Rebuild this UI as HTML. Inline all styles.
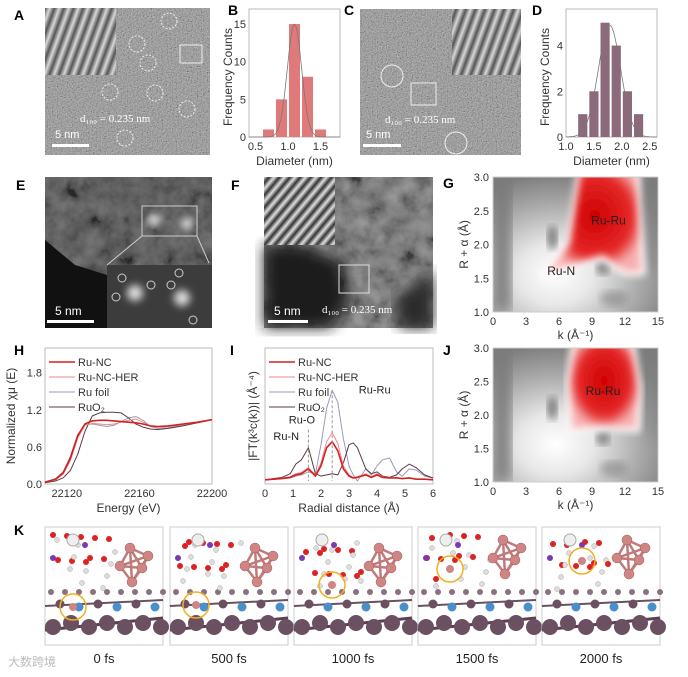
<!DOCTYPE html>
<html><head><meta charset="utf-8"><style>
html,body{margin:0;padding:0;background:#fff}
svg{display:block;font-family:"Liberation Sans","Noto Sans CJK SC",sans-serif}
.pl{font-weight:bold;font-size:14px;fill:#000}
.tk{font-size:11px;fill:#333}
.ax{font-size:12px;fill:#333}
</style></head><body>
<svg id="fig" width="688" height="677" viewBox="0 0 688 677">
<defs>
<filter id="nz" x="0" y="0" width="100%" height="100%"><feTurbulence type="fractalNoise" baseFrequency="0.8" numOctaves="2" seed="3"/><feColorMatrix type="matrix" values="0.33 0.33 0.33 0 0  0.33 0.33 0.33 0 0  0.33 0.33 0.33 0 0  0 0 0 0 1"/><feComponentTransfer><feFuncR type="linear" slope="2.2" intercept="-0.6"/><feFuncG type="linear" slope="2.2" intercept="-0.6"/><feFuncB type="linear" slope="2.2" intercept="-0.6"/></feComponentTransfer></filter>
<filter id="nz2" x="0" y="0" width="100%" height="100%"><feTurbulence type="fractalNoise" baseFrequency="0.06" numOctaves="4" seed="7"/><feColorMatrix type="matrix" values="0.33 0.33 0.33 0 0  0.33 0.33 0.33 0 0  0.33 0.33 0.33 0 0  0 0 0 0 1"/><feComponentTransfer><feFuncR type="linear" slope="2.5" intercept="-0.75"/><feFuncG type="linear" slope="2.5" intercept="-0.75"/><feFuncB type="linear" slope="2.5" intercept="-0.75"/></feComponentTransfer></filter>
<filter id="bl"><feGaussianBlur stdDeviation="4"/></filter>
<filter id="bl2"><feGaussianBlur stdDeviation="7"/></filter>
<linearGradient id="fringe" gradientUnits="userSpaceOnUse" x1="0" y1="0" x2="9" y2="0" spreadMethod="repeat" gradientTransform="rotate(20)"><stop offset="0" stop-color="#555"/><stop offset="0.5" stop-color="#d8d8d8"/><stop offset="1" stop-color="#555"/></linearGradient>
<linearGradient id="fringe2" gradientUnits="userSpaceOnUse" x1="0" y1="0" x2="8" y2="0" spreadMethod="repeat" gradientTransform="rotate(40)"><stop offset="0" stop-color="#333"/><stop offset="0.5" stop-color="#e0e0e0"/><stop offset="1" stop-color="#333"/></linearGradient>
<radialGradient id="gbg" cx="0.38" cy="0.72" r="0.75"><stop offset="0" stop-color="#fff"/><stop offset="0.3" stop-color="#e8e8e8"/><stop offset="0.7" stop-color="#a8a8a8"/><stop offset="1" stop-color="#7c7c7c"/></radialGradient>
<radialGradient id="red" cx="0.5" cy="0.45" r="0.55"><stop offset="0" stop-color="#d00000"/><stop offset="0.75" stop-color="#e52a2a"/><stop offset="1" stop-color="#f7b0b0"/></radialGradient>
</defs>

<g>
<text class="pl" x="14" y="20">A</text>
<rect x="45" y="8" width="165" height="147" fill="#8a8a8a"/>
<rect x="45" y="8" width="165" height="147" filter="url(#nz)" opacity="0.45"/>
<rect x="45" y="8" width="71" height="67" fill="url(#fringe)"/>
<g fill="none" stroke="#eee" stroke-dasharray="2,1.5"><circle cx="169" cy="21" r="8"/><circle cx="137" cy="44" r="8"/><circle cx="148" cy="63" r="8"/><circle cx="110" cy="92" r="8"/><circle cx="155" cy="93" r="8"/><circle cx="187" cy="109" r="8"/><circle cx="125" cy="138" r="8"/></g>
<rect x="180" y="45" width="22" height="18" fill="none" stroke="#eee"/>
<text x="80" y="122" font-family="Liberation Serif" font-size="11" fill="#fff">d₁₀₀ = 0.235 nm</text>
<text x="55" y="138" font-size="11" fill="#fff">5 nm</text>
<rect x="52" y="144" width="37" height="3" fill="#fff"/>
</g>

<g id="pb"><text class="pl" x="228" y="15">B</text></g>
<g>
<text class="pl" x="344" y="15">C</text>
<rect x="360" y="9" width="161" height="146" fill="#8a8a8a"/>
<rect x="360" y="9" width="161" height="146" filter="url(#nz)" opacity="0.45"/>
<rect x="452" y="9" width="69" height="66" fill="url(#fringe)"/>
<circle cx="392" cy="76" r="11" fill="none" stroke="#eee"/>
<circle cx="456" cy="143" r="11" fill="none" stroke="#eee"/>
<rect x="411" y="83" width="25" height="22" fill="none" stroke="#eee"/>
<text x="385" y="123" font-family="Liberation Serif" font-size="11" fill="#fff">d₁₀₀ = 0.235 nm</text>
<text x="366" y="138" font-size="11" fill="#fff">5 nm</text>
<rect x="363" y="144" width="38" height="3" fill="#fff"/>
</g>
<g id="pd"><text class="pl" x="532" y="15">D</text></g>

<g>
<text class="pl" x="16" y="190">E</text>
<rect x="45" y="177" width="167" height="151" fill="#3a3a3a"/>
<rect x="45" y="177" width="167" height="151" filter="url(#nz2)" opacity="0.3"/>
<path d="M45 240 L75 265 L107 275 L107 328 L45 328Z" fill="#111"/>
<rect x="107" y="265" width="105" height="63" fill="#3c3c3c"/>
<g fill="#ddd" filter="url(#bl)"><circle cx="154" cy="220" r="6"/><circle cx="187" cy="224" r="6"/><circle cx="135" cy="293" r="8"/><circle cx="182" cy="298" r="8"/></g>
<rect x="142" y="206" width="55" height="30" fill="none" stroke="#ccc"/>
<line x1="142" y1="236" x2="107" y2="265" stroke="#ccc"/><line x1="197" y1="236" x2="209" y2="263" stroke="#ccc"/>
<g fill="none" stroke="#ccc"><circle cx="122" cy="278" r="4"/><circle cx="151" cy="285" r="4"/><circle cx="171" cy="285" r="4"/><circle cx="179" cy="273" r="4"/><circle cx="116" cy="297" r="4"/><circle cx="193" cy="320" r="4"/></g>
<text x="55" y="315" font-size="12" fill="#fff">5 nm</text>
<rect x="47" y="320" width="47" height="3" fill="#fff"/>
</g>
<g>
<text class="pl" x="231" y="190">F</text>
<rect x="264" y="177" width="169" height="151" fill="#5e5e5e"/>
<rect x="264" y="177" width="169" height="151" filter="url(#nz2)" opacity="0.35"/>
<path d="M264 245 L300 245 L340 260 L350 300 L330 328 L264 328Z" fill="#1e1e1e" filter="url(#bl2)"/>
<path d="M395 300 L433 270 L433 328 L400 328Z" fill="#2a2a2a" filter="url(#bl2)"/>
<rect x="264" y="177" width="71" height="68" fill="url(#fringe2)"/>
<rect x="339" y="265" width="30" height="28" fill="none" stroke="#ddd"/>
<text x="322" y="313" font-family="Liberation Serif" font-size="11" fill="#fff">d₁₀₀ = 0.235  nm</text>
<text x="274" y="315" font-size="12" fill="#fff">5 nm</text>
<rect x="268" y="320" width="40" height="3" fill="#fff"/>
</g>
<g id="pg"><text class="pl" x="443" y="188">G</text></g>
<g id="pj"><text class="pl" x="443" y="355">J</text></g>
<g id="ph"><text class="pl" x="14" y="355">H</text></g>
<g id="pi"><text class="pl" x="230" y="355">I</text></g>
<g id="pk"><text class="pl" x="14" y="535">K</text></g>
<text x="8" y="666" font-size="12" fill="#bbb">大数跨境</text>
</svg>
<script>
const NS="http://www.w3.org/2000/svg";
function el(p,t,a,txt){const e=document.createElementNS(NS,t);for(const k in a)e.setAttribute(k,a[k]);if(txt!==undefined)e.textContent=txt;p.appendChild(e);return e;}

const bBins=[0.7,0.9,1.1,1.3,1.5];
const bCounts=[1,5,15,8,1];
const bXTicks=[0.5,1.0,1.5];
const bYTicks=[0,5,10,15];
const dBins=[1.3,1.5,1.7,1.9,2.1,2.3];
const dCounts=[1,2,5,4,2,1];
const dXTicks=[1.0,1.5,2.0,2.5];
const dYTicks=[0,2,4];

function hist(g,bins,counts,xt,yt,box,xr,yr,color,mu,sd,amp,xlabels){
  const [x0,y0,x1,y1]=box;
  const X=v=>x0+(v-xr[0])/(xr[1]-xr[0])*(x1-x0);
  const Y=v=>y1-(v-yr[0])/(yr[1]-yr[0])*(y1-y0);
  el(g,'rect',{x:x0,y:y0,width:x1-x0,height:y1-y0,fill:'none',stroke:'#bbb'});
  const w=bins[1]-bins[0];
  bins.forEach((b,i)=>{
    const r=el(g,'rect',{x:X(b-w/2)+1,y:Y(counts[i]),width:X(b+w/2)-X(b-w/2)-2,height:Y(0)-Y(counts[i]),fill:color});
    
    
  });
  let d='';for(let i=0;i<=80;i++){const v=xr[0]+(xr[1]-xr[0])*i/80;const c=amp*Math.exp(-((v-mu)**2)/(2*sd*sd));d+=(i?'L':'M')+X(v).toFixed(1)+' '+Y(c).toFixed(1);}
  el(g,'path',{d,fill:'none',stroke:'#777','stroke-width':0.8});
  xt.forEach((t,i)=>el(g,'text',{class:'tk',x:X(t),y:y1+13,'text-anchor':'middle'},xlabels[i]));
  yt.forEach(t=>el(g,'text',{class:'tk',x:x0-3,y:Y(t)+4,'text-anchor':'end'},String(t)));
  el(g,'text',{class:'ax',x:(x0+x1)/2,y:y1+28,'text-anchor':'middle'},'Diameter (nm)');
  el(g,'text',{class:'ax',transform:`translate(${x0-17},${(y0+y1)/2+4}) rotate(-90)`,'text-anchor':'middle'},'Frequency Counts');
}
hist(document.getElementById('pb'),bBins,bCounts,bXTicks,bYTicks,[249,9,340,137],[0.4,1.8],[0,17],'#e07a7a',1.1,0.11,15,['0.5','1.0','1.5']);
hist(document.getElementById('pd'),dBins,dCounts,dXTicks,dYTicks,[566,9,657,137],[1.0,2.63],[0,5.6],'#8c6a7c',1.78,0.2,4.9,['1.0','1.5','2.0','2.5']);

const mapKTicks=[0,3,6,9,12,15];
const mapRTicks=[1.0,1.5,2.0,2.5,3.0];
function wmap(g,box,blob,labels,id){
  const [x0,y0,x1,y1]=box;
  const X=v=>x0+v/15*(x1-x0);
  const Y=v=>y1-(v-1)/2*(y1-y0);
  el(el(g,'clipPath',{id}),'rect',{x:x0,y:y0,width:x1-x0,height:y1-y0});
  const gg=el(g,'g',{'clip-path':`url(#${id})`});
  el(gg,'rect',{x:x0,y:y0,width:x1-x0,height:y1-y0,fill:'url(#gbg)'});
  el(gg,'rect',{x:x0,y:y0,width:18,height:y1-y0,fill:'#7a7a7a',filter:'url(#bl2)'});
  el(gg,'ellipse',{cx:X(5.4),cy:Y(2.1),rx:5,ry:12,fill:'#555',filter:'url(#bl)',opacity:0.7});
  el(gg,'ellipse',{cx:X(10),cy:Y(1.65),rx:7,ry:7,fill:'#666',filter:'url(#bl)',opacity:0.7});
  el(gg,'ellipse',{cx:X(11),cy:Y(1.2),rx:14,ry:8,fill:'#888',filter:'url(#bl)',opacity:0.6});
  el(gg,'ellipse',{cx:X(14.5),cy:Y(2.2),rx:10,ry:40,fill:'#888',filter:'url(#bl2)',opacity:0.6});
  const pts=blob.map(p=>X(p[0]).toFixed(1)+','+Y(p[1]).toFixed(1)).join(' ');
  el(gg,'polygon',{points:pts,fill:'#fff',stroke:'#fff','stroke-width':8,filter:'url(#bl)'});
  el(gg,'polygon',{points:pts,fill:'url(#red)',filter:'url(#bl)'});
  el(g,'rect',{x:x0,y:y0,width:x1-x0,height:y1-y0,fill:'none',stroke:'#ccc'});
  labels.forEach(l=>el(g,'text',{x:X(l[0]),y:Y(l[1]),'font-size':12,fill:'#222','text-anchor':'middle'},l[2]));
  mapKTicks.forEach(t=>el(g,'text',{class:'tk',x:X(t),y:y1+13,'text-anchor':'middle'},String(t)));
  mapRTicks.forEach(t=>el(g,'text',{class:'tk',x:x0-4,y:Y(t)+4,'text-anchor':'end'},t.toFixed(1)));
  el(g,'text',{class:'ax',x:(x0+x1)/2,y:y1+27,'text-anchor':'middle'},'k (Å⁻¹)');
  el(g,'text',{class:'ax',transform:`translate(${x0-25},${(y0+y1)/2}) rotate(-90)`,'text-anchor':'middle'},'R + α (Å)');
}
wmap(document.getElementById('pg'),[493,177,658,312],[[8,3.1],[13,3.1],[13.2,2.4],[13.5,1.6],[12,1.6],[10,1.85],[8,1.75],[5,1.6],[7,2.0]],[[10.5,2.3,'Ru-Ru'],[6.2,1.55,'Ru-N']],'cg');
wmap(document.getElementById('pj'),[493,348,658,482],[[7.5,3.1],[12.5,3.1],[13.2,2.4],[13,1.8],[10,1.85],[7.2,1.8],[7,2.5]],[[10,2.3,'Ru-Ru']],'cj');

const hE=[22108,22114,22118,22122,22126,22130,22134,22138,22142,22146,22150,22154,22158,22162,22166,22170,22176,22184,22192,22200];
const hRuNC=[0.03,0.08,0.18,0.42,0.78,0.97,1.02,1.03,1.03,1.02,1.01,1.0,0.99,0.97,0.94,0.93,0.94,0.97,1.0,1.04];
const hRuNCHER=[0.03,0.07,0.16,0.38,0.74,0.95,0.98,0.97,0.96,0.97,1.0,1.03,1.05,1.0,0.94,0.92,0.93,0.96,1.0,1.04];
const hRuFoil=[0.03,0.09,0.2,0.45,0.8,0.96,0.97,0.95,0.93,0.95,1.01,1.07,1.09,1.03,0.93,0.9,0.91,0.95,0.99,1.04];
const hRuO2=[0.02,0.05,0.1,0.22,0.48,0.85,1.1,1.15,1.16,1.16,1.15,1.07,0.97,0.92,0.89,0.88,0.9,0.94,0.99,1.04];
const hXTicks=[22120,22160,22200];
const hYTicks=[0.0,0.6,1.2,1.8];
const iR=[0,0.3,0.6,0.9,1.1,1.3,1.55,1.8,2.0,2.2,2.4,2.6,2.8,3.0,3.15,3.3,3.6,3.8,4.0,4.2,4.45,4.7,4.9,5.15,5.4,5.7,6];
const iRuNC=[0.02,0.03,0.04,0.06,0.1,0.12,0.2,0.08,0.25,0.55,0.65,0.5,0.2,0.08,0.05,0.06,0.1,0.06,0.1,0.06,0.05,0.05,0.04,0.05,0.03,0.03,0.02];
const iRuNCHER=[0.02,0.03,0.05,0.07,0.12,0.14,0.22,0.1,0.3,0.65,0.8,0.62,0.25,0.1,0.06,0.07,0.12,0.07,0.12,0.07,0.05,0.06,0.04,0.06,0.03,0.03,0.02];
const iRuFoil=[0.02,0.03,0.04,0.05,0.08,0.1,0.15,0.12,0.6,1.2,1.5,1.3,0.7,0.25,0.1,0.0,0.2,0.1,0.25,0.35,0.38,0.15,0.08,0.2,0.18,0.08,0.05];
const iRuO2=[0.02,0.04,0.06,0.12,0.28,0.35,0.55,0.12,0.08,0.1,0.12,0.1,0.3,0.6,0.63,0.55,0.2,0.12,0.15,0.08,0.06,0.1,0.2,0.28,0.22,0.1,0.05];
const iXTicks=[0,1,2,3,4,5,6];

const cols={nc:'#d42020',her:'#ee8a8a',foil:'#9a9ab8',ruo2:'#5a3a4a'};
function lineChart(g,box,xr,yr,xs,series,xt,yt,xlab,ylab,yfmt){
  const [x0,y0,x1,y1]=box;
  const X=v=>x0+(v-xr[0])/(xr[1]-xr[0])*(x1-x0);
  const Y=v=>y1-(v-yr[0])/(yr[1]-yr[0])*(y1-y0);
  el(g,'rect',{x:x0,y:y0,width:x1-x0,height:y1-y0,fill:'none',stroke:'#bbb'});
  series.forEach(s=>{
    const d=xs.map((x,i)=>(i?'L':'M')+X(x).toFixed(1)+' '+Y(s.v[i]).toFixed(1)).join('');
    const p=el(g,'path',{d,fill:'none',stroke:s.c,'stroke-width':s.w,'stroke-linejoin':'round'});
    
    
  });
  xt.forEach(t=>el(g,'text',{class:'tk',x:X(t),y:y1+13,'text-anchor':'middle'},String(t)));
  if(yt) yt.forEach(t=>el(g,'text',{class:'tk',x:x0-3,y:Y(t)+4,'text-anchor':'end'},yfmt(t)));
  el(g,'text',{class:'ax',x:(x0+x1)/2,y:y1+28,'text-anchor':'middle'},xlab);
  el(g,'text',{class:'ax',transform:`translate(${x0-(yt?30:8)},${(y0+y1)/2}) rotate(-90)`,'text-anchor':'middle'},ylab);
  const leg=[['Ru-NC',cols.nc,1.6],['Ru-NC-HER',cols.her,1],['Ru foil',cols.foil,1],['RuO₂',cols.ruo2,1]];
  leg.forEach((l,i)=>{const yy=y0+14+i*15;el(g,'line',{x1:x0+4,y1:yy,x2:x0+30,y2:yy,stroke:l[1],'stroke-width':l[2]});
    const t=el(g,'text',{x:x0+33,y:yy+4,'font-size':11,fill:'#333'},l[0]);});
  return {X,Y};
}
lineChart(document.getElementById('ph'),[45,348,212,484],[22108,22200],[0,2.2],hE,
 [{n:'ru-foil',v:hRuFoil,c:cols.foil,w:1},{n:'ruo2',v:hRuO2,c:cols.ruo2,w:1},{n:'ru-nc-her',v:hRuNCHER,c:cols.her,w:1},{n:'ru-nc',v:hRuNC,c:cols.nc,w:1.6}],
 hXTicks,hYTicks,'Energy (eV)','Normalized χμ (E)',t=>t.toFixed(1));
const ic=lineChart(document.getElementById('pi'),[265,348,433,484],[0,6],[-0.05,2.2],iR,
 [{n:'ru-foil',v:iRuFoil,c:cols.foil,w:1},{n:'ruo2',v:iRuO2,c:cols.ruo2,w:1},{n:'ru-nc-her',v:iRuNCHER,c:cols.her,w:1},{n:'ru-nc',v:iRuNC,c:cols.nc,w:1.6}],
 iXTicks,null,'Radial distance (Å)','|FT(k³c(k))| (Å⁻⁴)');
(function(){const g=document.getElementById('pi');
 el(g,'line',{x1:ic.X(2.4),y1:ic.Y(1.5),x2:ic.X(2.4),y2:ic.Y(0),stroke:'#999','stroke-dasharray':'3,2'});
 el(g,'line',{x1:ic.X(1.55),y1:ic.Y(0.85),x2:ic.X(1.55),y2:ic.Y(0),stroke:'#999','stroke-dasharray':'3,2'});
 el(g,'text',{x:ic.X(3.35),y:ic.Y(1.45),'font-size':11,fill:'#222'},'Ru-Ru');
 el(g,'text',{x:ic.X(0.85),y:ic.Y(0.95),'font-size':11,fill:'#222'},'Ru-O');
 el(g,'text',{x:ic.X(0.3),y:ic.Y(0.68),'font-size':11,fill:'#222'},'Ru-N');})();

const kLabels=['0 fs','500 fs','1000 fs','1500 fs','2000 fs'];
const kFrameX=[45,170,294,418,542];
const kRing=[[28,80],[26,78],[38,58],[32,42],[40,34]];
(function(){const g=document.getElementById('pk');
 kFrameX.forEach((fx,i)=>{
  const f=el(g,'g',{});
  
  
  el(f,'rect',{x:fx,y:527,width:118,height:118,fill:'#fff',stroke:'#ccc'});
  el(f,'line',{x1:fx,y1:630,x2:fx+118,y2:618,stroke:'#5a4050','stroke-width':3});
  el(f,'line',{x1:fx,y1:606,x2:fx+118,y2:600,stroke:'#6a5060','stroke-width':2});
  for(let j=0;j<7;j++){el(f,'circle',{cx:fx+8+j*18,cy:627-(j%2)*4,r:8,fill:'#6a5060'});}
  for(let j=0;j<6;j++){el(f,'circle',{cx:fx+15+j*19,cy:604+(j%2)*3,r:4.5,fill:j%2?'#4a90c8':'#6a5060'});}
  for(let j=0;j<9;j++){el(f,'circle',{cx:fx+6+j*14,cy:592,r:3,fill:'#8a7080'});}
  for(let j=0;j<10;j++){el(f,'circle',{cx:fx+8+((j*37+i*11)%60),cy:535+((j*23+i*7)%45),r:3,fill:'#d22'});
   el(f,'circle',{cx:fx+12+((j*29+i*13)%62),cy:540+((j*31+i*5)%50),r:2.5,fill:'#ddd',stroke:'#aaa','stroke-width':0.5});}
  el(f,'circle',{cx:fx+40,cy:545,r:3,fill:'#7a3ab0'});el(f,'circle',{cx:fx+8,cy:558,r:3,fill:'#7a3ab0'});
  el(f,'circle',{cx:fx+28,cy:540,r:6,fill:'#eee',stroke:'#aaa'});
  const cx=fx+85,cy=560+(i>2?-8:0);
  const pts=[[cx,cy-12],[cx+12,cy+8],[cx-10,cy+6],[cx+2,cy+22],[cx+18,cy-4]];
  pts.forEach((a,m)=>pts.forEach((b,n)=>{if(n>m)el(f,'line',{x1:a[0],y1:a[1],x2:b[0],y2:b[1],stroke:'#c07a7a','stroke-width':2.5});}));
  pts.forEach(p=>el(f,'circle',{cx:p[0],cy:p[1],r:5,fill:'#d08585',stroke:'#a05a5a','stroke-width':0.5}));
  el(f,'circle',{cx:fx+kRing[i][0],cy:527+kRing[i][1],r:13,fill:'none',stroke:'#f0b020','stroke-width':1.5});
  el(f,'circle',{cx:fx+kRing[i][0],cy:527+kRing[i][1],r:4,fill:'#d08585'});
  const t=el(g,'text',{x:fx+59,y:663,'font-size':13,fill:'#222','text-anchor':'middle'},kLabels[i]);
  
  
 });})();
</script>
</body></html>
